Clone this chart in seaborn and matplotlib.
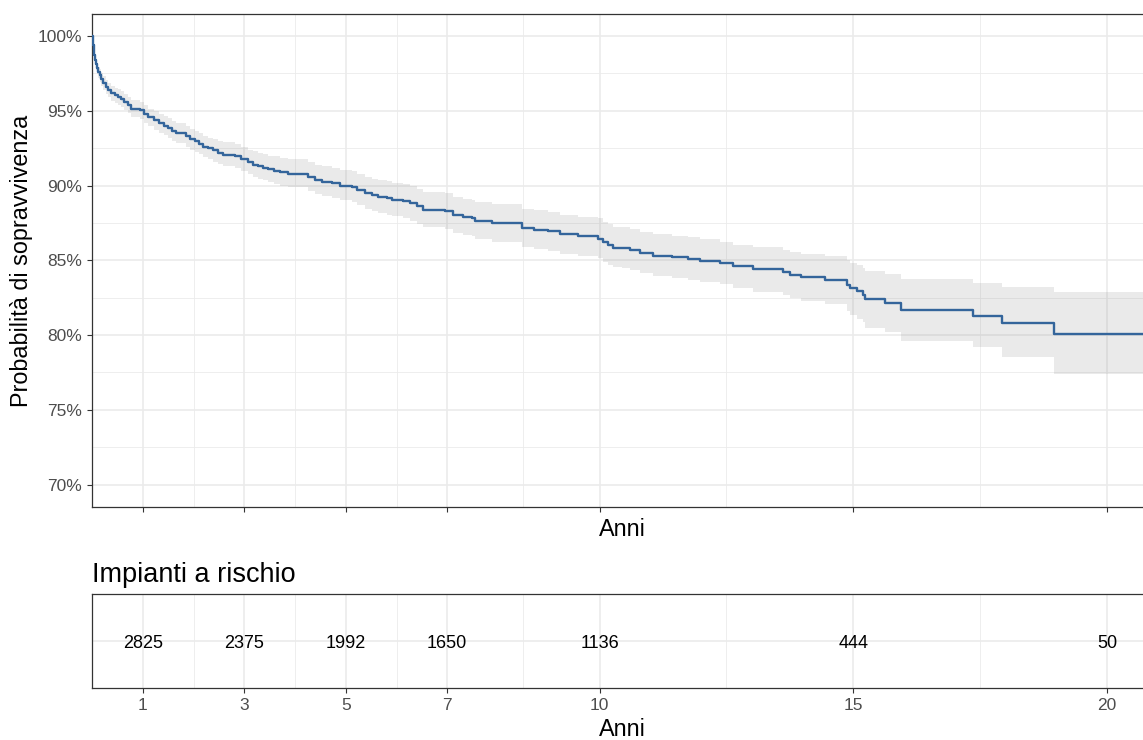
import numpy as np
import pandas as pd
import matplotlib
matplotlib.use('Agg')
import matplotlib.pyplot as plt
import seaborn as sns

sns.set_style('white')
plt.rcParams['font.family'] = ['Liberation Sans', 'DejaVu Sans']

# curva di sopravvivenza (Kaplan-Meier), valori in %
times = [0.00, 0.01, 0.02, 0.03, 0.04, 0.05, 0.07, 0.09, 0.12, 0.15, 0.18, 0.22,
         0.27, 0.32, 0.38, 0.45, 0.51, 0.57, 0.64, 0.70, 0.77, 0.94, 1.02, 1.10,
         1.22, 1.33, 1.42, 1.50, 1.58, 1.66, 1.86, 1.94, 2.02, 2.10, 2.19, 2.28,
         2.38, 2.48, 2.58, 2.81, 2.94, 3.07, 3.17, 3.27, 3.37, 3.47, 3.58, 3.70,
         3.86, 4.26, 4.40, 4.53, 4.72, 4.89, 5.12, 5.22, 5.38, 5.51, 5.64, 5.81,
         5.91, 6.13, 6.27, 6.40, 6.53, 6.96, 7.12, 7.32, 7.48, 7.55, 7.88, 8.47,
         8.70, 8.99, 9.22, 9.58, 9.98, 10.07, 10.17, 10.27, 10.44, 10.60, 10.80,
         11.06, 11.42, 11.75, 11.98, 12.37, 12.64, 13.03, 13.62, 13.75, 13.98,
         14.44, 14.87, 14.94, 15.07, 15.20, 15.23, 15.62, 15.95, 17.35, 17.93,
         18.96, 21.00]
surv = [100.0, 99.8, 99.4, 99.0, 98.7, 98.4, 98.1, 97.85, 97.6, 97.4, 97.1, 96.85,
        96.6, 96.4, 96.2, 96.05, 95.95, 95.8, 95.6, 95.4, 95.15, 95.05, 94.8, 94.55,
        94.35, 94.15, 94.0, 93.85, 93.65, 93.5, 93.3, 93.1, 92.95, 92.8, 92.6, 92.5,
        92.35, 92.2, 92.05, 91.95, 91.8, 91.55, 91.4, 91.3, 91.2, 91.1, 91.0, 90.9,
        90.8, 90.55, 90.4, 90.25, 90.15, 90.0, 89.9, 89.7, 89.5, 89.35, 89.2, 89.15,
        89.05, 88.95, 88.8, 88.6, 88.35, 88.3, 88.05, 87.9, 87.85, 87.65, 87.5, 87.15,
        87.05, 86.95, 86.75, 86.6, 86.45, 86.2, 86.0, 85.85, 85.8, 85.7, 85.5,
        85.3, 85.2, 85.1, 84.95, 84.8, 84.6, 84.4, 84.2, 84.0, 83.9,
        83.7, 83.35, 83.15, 82.95, 82.7, 82.4, 82.15, 81.7, 81.3, 80.8,
        80.05, 80.05]
lower = [100.0, 99.65, 99.2, 98.75, 98.4, 98.05, 97.7, 97.45, 97.2, 96.95, 96.65, 96.4,
         96.1, 95.9, 95.65, 95.5, 95.4, 95.25, 95.05, 94.85, 94.6, 94.45, 94.2, 93.95,
         93.7, 93.5, 93.35, 93.2, 93.0, 92.85, 92.6, 92.4, 92.25, 92.1, 91.9, 91.75,
         91.6, 91.45, 91.3, 91.15, 91.0, 90.75, 90.6, 90.45, 90.35, 90.25, 90.1, 90.0,
         89.9, 89.6, 89.45, 89.3, 89.15, 89.0, 88.9, 88.7, 88.45, 88.3, 88.15, 88.05,
         87.95, 87.8, 87.65, 87.45, 87.2, 87.1, 86.85, 86.7, 86.6, 86.4, 86.25, 85.9,
         85.75, 85.65, 85.45, 85.3, 85.15, 84.9, 84.7, 84.55, 84.5, 84.35, 84.15,
         83.95, 83.8, 83.7, 83.55, 83.4, 83.15, 82.9, 82.65, 82.45, 82.3,
         82.05, 81.6, 81.35, 81.1, 80.85, 80.45, 80.2, 79.6, 79.2, 78.5,
         77.4, 77.4]
upper = [100.0, 99.9, 99.6, 99.25, 99.0, 98.7, 98.45, 98.2, 97.95, 97.8, 97.55, 97.3,
         97.05, 96.85, 96.65, 96.55, 96.45, 96.3, 96.1, 95.9, 95.7, 95.6, 95.4, 95.15,
         94.95, 94.8, 94.65, 94.5, 94.3, 94.15, 94.0, 93.8, 93.65, 93.5, 93.3, 93.2,
         93.1, 93.0, 92.9, 92.75, 92.6, 92.4, 92.3, 92.2, 92.1, 92.0, 91.95, 91.85,
         91.75, 91.55, 91.4, 91.3, 91.15, 91.05, 90.95, 90.8, 90.6, 90.45, 90.35, 90.3,
         90.2, 90.1, 89.95, 89.8, 89.55, 89.5, 89.25, 89.1, 89.05, 88.9, 88.75, 88.45,
         88.35, 88.25, 88.05, 87.9, 87.8, 87.55, 87.4, 87.25, 87.2, 87.1, 86.9,
         86.75, 86.65, 86.55, 86.4, 86.25, 86.05, 85.9, 85.7, 85.55, 85.45,
         85.3, 85.05, 84.85, 84.7, 84.5, 84.25, 84.1, 83.75, 83.45, 83.2,
         82.85, 82.85]

# tabella dei rischi
risk_times = [1, 3, 5, 7, 10, 15, 20]
n_risk = [2825, 2375, 1992, 1650, 1136, 444, 50]

x_major = [1, 3, 5, 7, 10, 15, 20]
x_minor = [2, 4, 6, 8.5, 12.5, 17.5]
y_major = [70, 75, 80, 85, 90, 95, 100]
y_minor = [72.5, 77.5, 82.5, 87.5, 92.5, 97.5]

df = pd.DataFrame({'time': times, 'surv': surv, 'lower': lower, 'upper': upper})

W, H = 1143, 740
fig = plt.figure(figsize=(W / 100, H / 100), dpi=100)
x_right = 92 + 20.9 * 50.75
ax1 = fig.add_axes([92 / W, 1 - 507 / H, (x_right - 92) / W, (507 - 14) / H])
ax2 = fig.add_axes([92 / W, 1 - 688 / H, (x_right - 92) / W, (688 - 594) / H])

grid_col = '#ebebeb'
border = '#333333'
line_col = '#34659b'

for ax in (ax1, ax2):
    ax.set_xlim(0, 20.9)
    ax.set_xticks(x_major)
    ax.set_xticks(x_minor, minor=True)
    ax.grid(which='major', color=grid_col, lw=1.2)
    ax.grid(which='minor', color=grid_col, lw=0.6)
    ax.set_axisbelow(True)
    for s in ax.spines.values():
        s.set_color(border)
        s.set_linewidth(0.9)
    ax.tick_params(axis='x', which='major', bottom=True, length=3.9, width=0.8,
                   color=border, labelsize=12.5, labelcolor='#4d4d4d', pad=3.4)
    ax.tick_params(which='minor', length=0)

# pannello superiore
ax1.fill_between(df['time'], df['lower'], df['upper'], step='post',
                 color='#808080', alpha=0.16, lw=0, zorder=2)
sns.lineplot(data=df, x='time', y='surv', drawstyle='steps-post', estimator=None,
             color=line_col, lw=1.7, ax=ax1, zorder=3)
ax1.set_ylim(68.5, 101.47)
ax1.set_yticks(y_major)
ax1.set_yticks(y_minor, minor=True)
ax1.set_yticklabels([f'{v}%' for v in y_major])
ax1.tick_params(axis='y', which='major', left=True, length=3.9, width=0.8, color=border,
                labelsize=12.5, labelcolor='#4d4d4d', pad=3.3)
ax1.tick_params(axis='x', labelbottom=False)
ax1.set_xlabel('Anni', fontsize=16.8, color='black')
ax1.xaxis.set_label_coords(0.5, -0.0215)
ax1.set_ylabel('Probabilità di sopravvivenza', fontsize=16.8, color='black')
ax1.yaxis.set_label_coords(-0.0556, 0.5)

# tabella "a rischio"
ax2.set_ylim(-1, 1)
ax2.set_yticks([0])
ax2.set_yticklabels([])
ax2.tick_params(axis='y', length=0)
for t, n in zip(risk_times, n_risk):
    ax2.text(t, 0, str(n), ha='center', va='center_baseline', fontsize=13, color='black')
ax2.set_xlabel('Anni', fontsize=16.8, color='black')
ax2.xaxis.set_label_coords(0.5, -0.318)
ax2.text(0, 1 + 12 / 94, 'Impianti a rischio', transform=ax2.transAxes,
         ha='left', va='baseline', fontsize=19.5, color='black')

fig.savefig('out.png', dpi=100)
